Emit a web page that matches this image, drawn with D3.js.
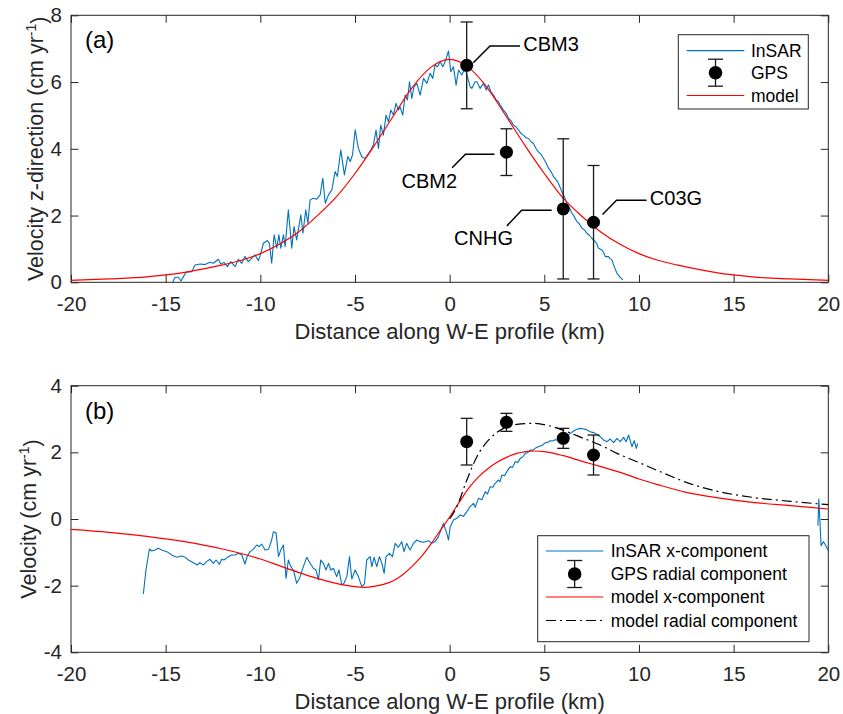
<!DOCTYPE html>
<html>
<head>
<meta charset="utf-8">
<script src="https://cdn.jsdelivr.net/npm/d3@7"></script>
<style>
    body { margin: 0; background: #fff; }
    text { font-family: "Liberation Sans", Arial, Helvetica, sans-serif; }
</style>
</head>
<body>
<svg id="fig" width="843" height="714"></svg>
<script>

// ---- data ----
let xTicks = [-20, -15, -10, -5, 0, 5, 10, 15, 20];
let yTicksA = [0, 2, 4, 6, 8];
let yTicksB = [-4, -2, 0, 2, 4];

// GPS stations: distance (km), vertical and radial velocity (cm/yr) with errors
let gpsNames = ['CBM3', 'CBM2', 'CNHG', 'C03G'];
let gpsX = [0.9, 3.0, 6.0, 7.6];
let gpsZ = [6.5, 3.9, 2.2, 1.8];
let gpsZErr = [1.3, 0.7, 2.1, 1.7];
let gpsR = [2.32, 2.9, 2.42, 1.92];
let gpsRErr = [0.7, 0.27, 0.3, 0.6];

// InSAR vertical profile [km, cm/yr]
let insarZ = [[-14.63, 0.0], [-14.5, 0.15], [-14.33, 0.15], [-14.19, 0.04], [-14.06, 0.17], [-13.92, 0.30], [-13.62, 0.32], [-13.45, 0.52], [-13.18, 0.55], [-12.92, 0.53], [-12.66, 0.60], [-12.48, 0.57], [-12.22, 0.69], [-12.09, 0.55], [-11.91, 0.59], [-11.74, 0.47], [-11.56, 0.62], [-11.33, 0.47], [-11.16, 0.69], [-10.98, 0.57], [-10.81, 0.77], [-10.63, 0.62], [-10.46, 0.72], [-10.28, 0.82], [-10.1, 0.65], [-9.98, 0.85], [-9.84, 1.17], [-9.63, 1.25], [-9.52, 1.17], [-9.40, 0.57], [-9.27, 1.42], [-9.13, 1.02], [-9.02, 1.42], [-8.92, 1.02], [-8.78, 1.42], [-8.69, 1.07], [-8.52, 2.17], [-8.34, 1.02], [-8.22, 1.67], [-8.08, 1.27], [-7.86, 2.02], [-7.75, 1.47], [-7.60, 2.17], [-7.49, 1.77], [-7.37, 2.47], [-7.20, 2.52], [-7.02, 2.49], [-6.84, 2.62], [-6.70, 3.12], [-6.57, 2.37], [-6.40, 2.62], [-6.22, 2.77], [-6.05, 3.32], [-5.93, 3.17], [-5.75, 3.97], [-5.56, 3.22], [-5.38, 3.77], [-5.25, 3.62], [-5.13, 3.82], [-4.99, 4.57], [-4.82, 4.01], [-4.64, 3.76], [-4.46, 3.71], [-4.29, 3.86], [-4.17, 3.96], [-4.03, 4.11], [-3.89, 4.56], [-3.76, 4.01], [-3.64, 4.71], [-3.50, 4.41], [-3.36, 5.01], [-3.23, 4.81], [-3.11, 5.16], [-2.97, 5.01], [-2.83, 5.36], [-2.71, 5.16], [-2.62, 5.26], [-2.48, 5.01], [-2.35, 5.61], [-2.23, 5.46], [-2.12, 6.01], [-2.00, 5.51], [-1.88, 5.86], [-1.73, 5.96], [-1.56, 5.61], [-1.38, 6.11], [-1.20, 5.96], [-1.03, 6.26], [-0.89, 6.11], [-0.77, 6.51], [-0.64, 6.46], [-0.50, 6.61], [-0.36, 6.46], [-0.24, 6.61], [-0.06, 6.93], [0.06, 6.31], [0.20, 6.46], [0.34, 5.91], [0.47, 6.36], [0.64, 6.21], [0.82, 6.41], [0.99, 6.06], [1.08, 5.86], [1.17, 5.81], [1.26, 5.91], [1.35, 6.01], [1.44, 6.01], [1.52, 5.91], [1.61, 5.81], [1.79, 5.96], [1.93, 5.76], [2.05, 5.91], [2.18, 5.71], [2.32, 5.61], [2.46, 5.46], [2.57, 5.42], [2.67, 5.31], [2.84, 5.16], [2.97, 5.08], [3.11, 4.91], [3.24, 4.84], [3.37, 4.71], [3.50, 4.66], [3.64, 4.56], [3.77, 4.46], [3.90, 4.41], [4.04, 4.33], [4.17, 4.31], [4.30, 4.21], [4.43, 4.16], [4.56, 4.01], [4.69, 3.91], [4.83, 3.83], [4.96, 3.71], [5.09, 3.58], [5.22, 3.42], [5.36, 3.31], [5.49, 3.16], [5.60, 3.09], [5.70, 3.01], [5.81, 2.88], [5.93, 2.71], [6.06, 2.56], [6.19, 2.37], [6.32, 2.24], [6.46, 2.07], [6.59, 1.96], [6.72, 1.82], [6.86, 1.74], [6.99, 1.62], [7.12, 1.57], [7.25, 1.47], [7.38, 1.41], [7.51, 1.32], [7.69, 1.22], [7.78, 1.14], [7.86, 1.02], [8.04, 0.97], [8.13, 0.90], [8.22, 0.77], [8.39, 0.77], [8.48, 0.71], [8.57, 0.67], [8.69, 0.47], [8.84, 0.27], [9.01, 0.15], [9.15, 0.07]];

// model vertical velocity [km, cm/yr]
let modelZ = [[-20, 0.06], [-18, 0.1], [-16, 0.16], [-15, 0.22], [-14, 0.3], [-13, 0.4], [-12, 0.52], [-11, 0.66], [-10, 0.86], [-9, 1.14], [-8, 1.5], [-7, 1.99], [-6, 2.55], [-5, 3.26], [-4, 4.08], [-3, 4.96], [-2, 5.82], [-1, 6.44], [0, 6.68], [1, 6.44], [2, 5.82], [3, 4.96], [4, 4.08], [5, 3.26], [6, 2.52], [7, 1.97], [8, 1.5], [9, 1.14], [10, 0.86], [11, 0.66], [12, 0.52], [13, 0.4], [14, 0.3], [15, 0.22], [16, 0.16], [18, 0.1], [20, 0.06]];

// InSAR x-component profile, two pieces [km, cm/yr]
let insarX = [[-16.18, -2.25], [-16.04, -1.53], [-15.86, -0.90], [-15.74, -0.96], [-15.56, -0.93], [-15.39, -0.88], [-15.21, -0.93], [-14.94, -0.98], [-14.68, -1.08], [-14.41, -1.15], [-14.15, -1.11], [-13.97, -1.15], [-13.80, -1.23], [-13.54, -1.31], [-13.33, -1.38], [-13.19, -1.31], [-13.01, -1.38], [-12.84, -1.28], [-12.66, -1.21], [-12.48, -1.33], [-12.34, -1.23], [-12.16, -1.36], [-12.04, -1.21], [-11.92, -1.23], [-11.74, -1.15], [-11.51, -1.08], [-11.33, -1.08], [-11.16, -1.03], [-10.98, -1.08], [-10.81, -1.35], [-10.69, -1.11], [-10.54, -0.98], [-10.37, -0.91], [-10.19, -0.78], [-10.05, -0.83], [-9.93, -0.75], [-9.75, -0.93], [-9.57, -0.91], [-9.40, -0.63], [-9.31, -0.38], [-9.17, -0.41], [-9.04, -1.13], [-8.92, -0.93], [-8.78, -0.78], [-8.64, -1.78], [-8.52, -1.23], [-8.39, -1.43], [-8.25, -1.53], [-8.08, -1.93], [-7.93, -1.78], [-7.76, -1.48], [-7.55, -1.15], [-7.37, -1.33], [-7.20, -1.48], [-7.06, -1.53], [-6.93, -1.83], [-6.81, -1.23], [-6.67, -1.33], [-6.53, -1.53], [-6.40, -1.33], [-6.28, -1.53], [-6.14, -1.48], [-5.97, -1.73], [-5.84, -1.53], [-5.70, -1.98], [-5.58, -1.93], [-5.43, -1.73], [-5.29, -1.13], [-5.17, -1.80], [-4.99, -1.53], [-4.82, -1.73], [-4.64, -2.03], [-4.50, -1.95], [-4.38, -1.23], [-4.20, -1.13], [-4.11, -1.43], [-3.99, -1.15], [-3.85, -1.43], [-3.71, -1.13], [-3.58, -1.33], [-3.46, -1.63], [-3.36, -1.13], [-3.18, -1.03], [-3.02, -1.13], [-2.88, -0.73], [-2.71, -0.85], [-2.53, -0.68], [-2.41, -0.98], [-2.27, -0.73], [-2.09, -0.93], [-1.91, -0.73], [-1.73, -0.63], [-1.56, -0.68], [-1.38, -0.70], [-1.12, -0.65], [-0.95, -0.73], [-0.77, -0.68], [-0.59, -0.53], [-0.33, -0.13], [-0.15, -0.43], [-0.06, -0.63], [0.03, -0.23], [0.20, -0.03], [0.38, 0.02], [0.55, 0.12], [0.73, 0.08], [0.91, 0.22], [1.08, 0.37], [1.26, 0.47], [1.35, 0.35], [1.52, 0.62], [1.70, 0.58], [1.88, 0.82], [2.00, 0.75], [2.14, 0.97], [2.28, 0.95], [2.40, 1.07], [2.58, 1.17], [2.66, 1.12], [2.76, 1.32], [2.90, 1.30], [3.02, 1.42], [3.20, 1.57], [3.33, 1.55], [3.46, 1.72], [3.60, 1.70], [3.73, 1.82], [3.86, 1.86], [3.99, 1.97], [4.12, 1.99], [4.25, 2.07], [4.38, 2.06], [4.52, 2.12], [4.65, 2.16], [4.78, 2.19], [4.92, 2.22], [5.05, 2.29], [5.18, 2.30], [5.31, 2.35], [5.44, 2.34], [5.57, 2.38], [5.70, 2.37], [5.84, 2.41], [5.97, 2.40], [6.10, 2.45], [6.24, 2.50], [6.37, 2.57], [6.50, 2.62], [6.63, 2.67], [6.77, 2.70], [6.90, 2.72], [7.03, 2.71], [7.16, 2.69], [7.29, 2.66], [7.42, 2.62], [7.55, 2.60], [7.69, 2.57], [7.82, 2.52], [7.95, 2.47], [8.13, 2.37], [8.31, 2.32], [8.48, 2.40], [8.66, 2.29], [8.84, 2.42], [9.01, 2.32], [9.19, 2.45], [9.32, 2.32], [9.45, 2.52], [9.63, 2.17], [9.75, 2.35], [9.86, 2.12], [9.93, 2.27]];
let insarXEdge = [[19.45, -0.2], [19.5, 0.6], [19.62, -0.8], [19.75, -0.68], [19.85, -0.78], [20.0, -0.95]];

// model x-component and radial component [km, cm/yr]
let modelX = [[-20, -0.31], [-18, -0.4], [-16, -0.52], [-14, -0.68], [-12, -0.9], [-10, -1.2], [-9, -1.4], [-8, -1.6], [-7, -1.78], [-6, -1.93], [-5, -2.03], [-4.5, -2.05], [-4, -2.02], [-3.5, -1.96], [-3, -1.86], [-2.5, -1.68], [-2, -1.43], [-1.5, -1.13], [-1, -0.76], [-0.5, -0.35], [0, 0.06], [0.5, 0.5], [1, 0.92], [1.5, 1.25], [2, 1.5], [2.5, 1.7], [3, 1.85], [3.5, 1.96], [4, 2.02], [4.5, 2.04], [5, 2.02], [6, 1.9], [7, 1.73], [8, 1.57], [9, 1.4], [10, 1.2], [11, 1.03], [12.5, 0.8], [14, 0.65], [16, 0.5], [18, 0.4], [20, 0.3]];
let modelR = [[0, 0.0], [0.38, 0.37], [0.91, 1.17], [1.44, 1.87], [2.14, 2.42], [2.84, 2.72], [3.55, 2.84], [4.43, 2.87], [5.31, 2.79], [6.19, 2.62], [7.07, 2.42], [7.95, 2.22], [8.84, 1.97], [9.89, 1.72], [11, 1.45], [12.5, 1.1], [14, 0.85], [16, 0.65], [18, 0.53], [20, 0.43]];


// ---- layout ----
let svg = d3.select('#fig');
let axisCol = '#262626';
let insarCol = '#0072bd';
let modelCol = '#ff0000';

let xs = d3.scaleLinear().domain([-20, 20]).range([71, 828.3]);
let yA = d3.scaleLinear().domain([0, 8]).range([282.3, 15.3]);
let yB = d3.scaleLinear().domain([-4, 4]).range([652.3, 385.7]);

svg.append('rect').attr('width', 843).attr('height', 714).attr('fill', '#fff');


function draw_axes(g, x, y, yTicks, ylabel, tag) {

    let x0 = x.range()[0], x1 = x.range()[1];
    let y0 = y.range()[0], y1 = y.range()[1];

    g.append('rect')
        .attr('x', x0)
        .attr('y', y1)
        .attr('width', x1 - x0)
        .attr('height', y0 - y1)
        .attr('fill', 'none')
        .attr('stroke', axisCol)
        .attr('stroke-width', 1);

    let fmt = (d) => String(d);

    let bottom = g.append('g')
        .attr('transform', 'translate(0,' + y0 + ')')
        .call(d3.axisBottom(x).tickValues(xTicks).tickFormat(fmt).tickSize(-7.5).tickPadding(14));
    let top = g.append('g')
        .attr('transform', 'translate(0,' + y1 + ')')
        .call(d3.axisTop(x).tickValues(xTicks).tickFormat('').tickSize(-7.5));
    let left = g.append('g')
        .attr('transform', 'translate(' + x0 + ',0)')
        .call(d3.axisLeft(y).tickValues(yTicks).tickFormat(fmt).tickSize(-7.5).tickPadding(9));
    let right = g.append('g')
        .attr('transform', 'translate(' + x1 + ',0)')
        .call(d3.axisRight(y).tickValues(yTicks).tickFormat('').tickSize(-7.5));

    [bottom, top, left, right].forEach(function (a) {
        a.select('.domain').remove();
        a.selectAll('line').attr('stroke', axisCol).attr('stroke-width', 1);
        a.selectAll('text')
            .attr('fill', axisCol)
            .style('font-size', '20.5px')
            .style('font-family', '"Liberation Sans", Arial, sans-serif');
    });

    g.append('text')
        .attr('x', (x0 + x1) / 2)
        .attr('y', y0 + 57)
        .attr('text-anchor', 'middle')
        .attr('fill', axisCol)
        .style('font-size', '22px')
        .text('Distance along W-E profile (km)');

    let yl = g.append('text')
        .attr('transform', 'translate(' + ylabel.x + ',' + (y0 + y1) / 2 + ') rotate(-90)')
        .attr('text-anchor', 'middle')
        .attr('dy', '0.35em')
        .attr('fill', axisCol)
        .style('font-size', '21.5px');
    yl.append('tspan').text(ylabel.text + ' (cm yr');
    yl.append('tspan').attr('dy', '-0.45em').style('font-size', '14px').text('-1');
    yl.append('tspan').attr('dy', '0.45em').text(')');

    g.append('text')
        .attr('x', 85)
        .attr('y', y1 + 33)
        .attr('fill', '#000')
        .style('font-size', '24px')
        .text(tag);
}


function draw_line(g, data, x, y, col) {
    let line = d3.line()
        .x((d) => x(d[0]))
        .y((d) => y(d[1]));
    return g.append('path')
        .datum(data)
        .attr('d', line)
        .attr('fill', 'none')
        .attr('stroke', col)
        .attr('stroke-width', 1.1)
        .attr('stroke-linejoin', 'round');
}

function draw_smooth(g, data, x, y, col, dash) {
    let line = d3.line()
        .curve(d3.curveMonotoneX)
        .x((d) => x(d[0]))
        .y((d) => y(d[1]));
    let p = g.append('path')
        .datum(data)
        .attr('d', line)
        .attr('fill', 'none')
        .attr('stroke', col)
        .attr('stroke-width', 1.2);
    if (dash) p.attr('stroke-dasharray', dash);
    return p;
}

function errorbar(g, cx, cy, ylo, yhi, cap, r) {
    g.append('line')
        .attr('x1', cx).attr('x2', cx)
        .attr('y1', ylo).attr('y2', yhi)
        .attr('stroke', '#1a1a1a').attr('stroke-width', 1.3);
    [ylo, yhi].forEach(function (yy) {
        g.append('line')
            .attr('x1', cx - cap / 2).attr('x2', cx + cap / 2)
            .attr('y1', yy).attr('y2', yy)
            .attr('stroke', '#1a1a1a').attr('stroke-width', 1.3);
    });
    g.append('circle')
        .attr('cx', cx).attr('cy', cy)
        .attr('r', r)
        .attr('fill', '#000');
}

function legend_box(g, bx, by, bw, bh, items, lx0, lx1, tx) {
    g.append('rect')
        .attr('x', bx).attr('y', by)
        .attr('width', bw).attr('height', bh)
        .attr('fill', '#fff')
        .attr('stroke', axisCol)
        .attr('stroke-width', 1);

    items.forEach(function (it) {
        if (it.type === 'gps') {
            let cx = (lx0 + lx1) / 2;
            errorbar(g, cx, it.y, it.y + 13.5, it.y - 13.5, 15, 6.8);
        } else {
            let l = g.append('line')
                .attr('x1', lx0).attr('x2', lx1)
                .attr('y1', it.y).attr('y2', it.y)
                .attr('stroke', it.col)
                .attr('stroke-width', 1.2);
            if (it.dash) l.attr('stroke-dasharray', it.dash);
        }
        g.append('text')
            .attr('x', tx)
            .attr('y', it.y)
            .attr('dy', '0.35em')
            .attr('fill', '#000')
            .style('font-size', '17.5px')
            .text(it.label);
    });
}


// ---- panel (a) ----
let ga = svg.append('g').attr('class', 'panel-a');

draw_axes(ga, xs, yA, yTicksA, {x: 35, text: 'Velocity z-direction'}, '(a)');
draw_line(ga, insarZ, xs, yA, insarCol);
draw_smooth(ga, modelZ, xs, yA, modelCol);

// leader lines for station names, offsets from the marker in px
let leaders = [
    {pts: [[6.6, -2.6], [23.3, -19.3], [53.3, -19.3]], tx: 56.5, ty: -21.5, anchor: 'start'},
    {pts: [[-12, 2], [-41, 2], [-54.3, 15.7]], tx: -49.3, ty: 29, anchor: 'end'},
    {pts: [[-11.6, 1.3], [-41.6, 1.3], [-56.3, 17]], tx: -50.3, ty: 28.7, anchor: 'end'},
    {pts: [[9, -7.7], [23, -22], [53, -22]], tx: 56.3, ty: -24.3, anchor: 'start'}
];

gpsX.forEach(function (d, i) {
    let cx = xs(d), cy = yA(gpsZ[i]);
    errorbar(ga, cx, cy, yA(gpsZ[i] - gpsZErr[i]), yA(gpsZ[i] + gpsZErr[i]), 12, 6.5);

    let ld = leaders[i];
    ga.append('path')
        .attr('d', d3.line()(ld.pts.map((p) => [cx + p[0], cy + p[1]])))
        .attr('fill', 'none')
        .attr('stroke', '#000')
        .attr('stroke-width', 1.5);
    ga.append('text')
        .attr('x', cx + ld.tx)
        .attr('y', cy + ld.ty)
        .attr('dy', '0.35em')
        .attr('text-anchor', ld.anchor)
        .attr('fill', '#000')
        .style('font-size', '20px')
        .text(gpsNames[i]);
});

legend_box(ga, 678.3, 34.7, 130, 74.3, [
    {label: 'InSAR', col: insarCol, y: 50.7},
    {label: 'GPS', type: 'gps', y: 72.7},
    {label: 'model', col: modelCol, y: 95.5}
], 686.7, 744.3, 751);


// ---- panel (b) ----
let gb = svg.append('g').attr('class', 'panel-b');

draw_axes(gb, xs, yB, yTicksB, {x: 28, text: 'Velocity'}, '(b)');
draw_line(gb, insarX, xs, yB, insarCol);
draw_line(gb, insarXEdge, xs, yB, insarCol);
draw_smooth(gb, modelX, xs, yB, modelCol);
draw_smooth(gb, modelR, xs, yB, '#000', '10,4,2,4');

gpsX.forEach(function (d, i) {
    errorbar(gb, xs(d), yB(gpsR[i]), yB(gpsR[i] - gpsRErr[i]), yB(gpsR[i] + gpsRErr[i]), 12, 6.5);
});

legend_box(gb, 537.7, 535.7, 271.3, 106, [
    {label: 'InSAR x-component', col: insarCol, y: 551},
    {label: 'GPS radial component', type: 'gps', y: 574},
    {label: 'model x-component', col: modelCol, y: 597},
    {label: 'model radial component', col: '#000', dash: '10,4,2,4', y: 620.5}
], 546, 603.3, 610.7);

</script>
</body>
</html>
